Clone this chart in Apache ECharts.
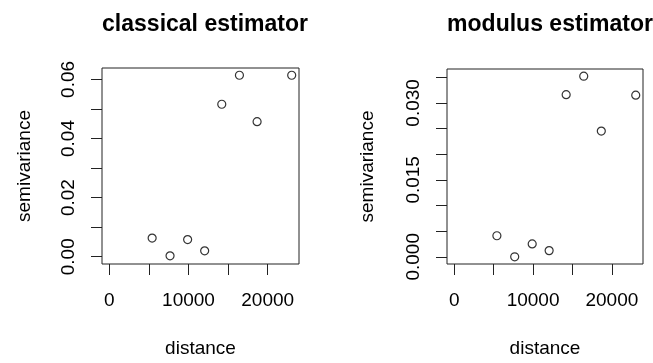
<!DOCTYPE html>
<html>
<head>
<meta charset="utf-8">
<script src="https://cdn.jsdelivr.net/npm/echarts@6/dist/echarts.min.js"></script>
<style>
  html, body { margin: 0; background: #fff; }
  #chart { width: 653px; height: 363px; }
</style>
</head>
<body>
<div id="chart"></div>
<script>
// binned lag distances and the two semivariance estimates
const distance = [5410, 7670, 9890, 12040, 14200, 16430, 18660, 23030];
const classical = [0.0063, 0.0003, 0.0058, 0.0020, 0.0516, 0.0614, 0.0457, 0.0614];
const modulus = [0.0041, 0.0000, 0.0025, 0.0012, 0.0316, 0.0352, 0.0245, 0.0315];

const titles = ['classical estimator', 'modulus estimator'];
const xTicks = [0, 5000, 10000, 15000, 20000];
const xLabels = [0, 10000, 20000];
const classicalTicks = [0, 0.01, 0.02, 0.03, 0.04, 0.05, 0.06];
const classicalLabels = [0, 0.02, 0.04, 0.06];
const modulusTicks = [0, 0.005, 0.01, 0.015, 0.02, 0.025, 0.03, 0.035];
const modulusLabels = [0, 0.015, 0.03];

const FONT = '"Liberation Sans", Arial, sans-serif';
const INK = '#222';

// R style limits: c(0, max) widened by 4% on each side
function rRange(values) {
  const top = Math.max(...values);
  return { min: -0.04 * top, max: 1.04 * top };
}

const panels = [
  { y: classical, ticks: classicalTicks, labels: classicalLabels, digits: 2,
    grid: { left: 102, top: 68, width: 197, height: 198 }, center: 200, nameGap: 68 },
  { y: modulus, ticks: modulusTicks, labels: modulusLabels, digits: 3,
    grid: { left: 447, top: 69, width: 196, height: 197 }, center: 545, nameGap: 70 }
];

const chart = echarts.init(document.getElementById('chart'));

const option = {
  animation: false,
  backgroundColor: '#fff',
  title: panels.map((p, i) => ({
    text: titles[i],
    left: p.center,
    top: 8,
    textAlign: 'center',
    textStyle: { fontFamily: FONT, fontSize: 23, fontWeight: 'bold', color: '#000' }
  })),
  grid: panels.map(p => Object.assign({ show: true, borderColor: INK, borderWidth: 1, backgroundColor: 'transparent' }, p.grid)),
  xAxis: panels.map((p, i) => {
    const r = rRange(distance);
    return {
      type: 'value',
      gridIndex: i,
      min: r.min,
      max: r.max,
      name: 'distance',
      nameLocation: 'middle',
      nameGap: 75,
      nameTextStyle: { fontFamily: FONT, fontSize: 19, color: '#000' },
      axisLine: { show: false, onZero: false },
      axisTick: { show: true, length: 11, inside: false, customValues: xTicks, lineStyle: { color: INK } },
      axisLabel: { customValues: xLabels, margin: 27, fontFamily: FONT, fontSize: 19, color: '#000',
        formatter: v => String(v) },
      splitLine: { show: false }
    };
  }),
  yAxis: panels.map((p, i) => {
    const r = rRange(p.y);
    return {
      type: 'value',
      gridIndex: i,
      min: r.min,
      max: r.max,
      name: 'semivariance',
      nameLocation: 'middle',
      nameGap: p.nameGap,
      nameTextStyle: { fontFamily: FONT, fontSize: 19, color: '#000' },
      axisLine: { show: false, onZero: false },
      axisTick: { show: true, length: 11, inside: false, customValues: p.ticks, lineStyle: { color: INK } },
      axisLabel: { customValues: p.labels, rotate: 90, margin: 24, fontFamily: FONT, fontSize: 19, color: '#000',
        formatter: v => v.toFixed(p.digits) },
      splitLine: { show: false }
    };
  }),
  series: panels.map((p, i) => ({
    type: 'scatter',
    xAxisIndex: i,
    yAxisIndex: i,
    symbol: 'circle',
    symbolSize: 8,
    itemStyle: { color: '#fff', borderColor: '#000', borderWidth: 1.2 },
    data: distance.map((d, k) => [d, p.y[k]])
  }))
};

chart.setOption(option);
</script>
</body>
</html>
